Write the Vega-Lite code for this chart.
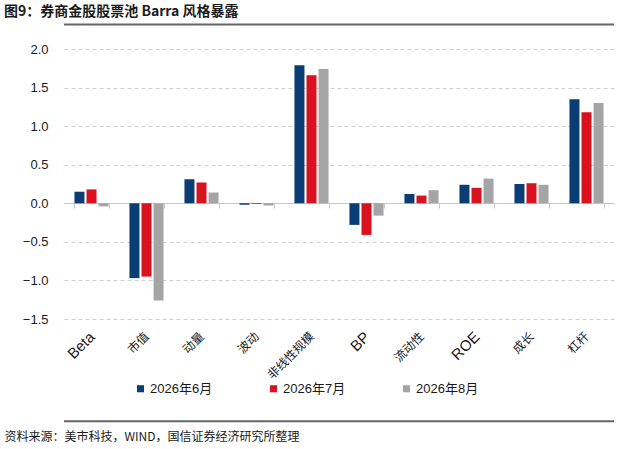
{
  "$schema": "https://vega.github.io/schema/vega-lite/v6.json",
  "width": 550,
  "height": 270,
  "autosize": {"type": "none"},
  "padding": {"left": 64, "top": 49, "right": 12, "bottom": 130},
  "background": "white",
  "config": {
    "view": {"stroke": null},
    "font": "Liberation Sans, Noto Sans CJK SC",
    "title": {"font": "Noto Sans CJK SC", "fontSize": 14, "fontWeight": "bold", "color": "#1a1a1a"}
  },
  "title": {
    "text": "图9：券商金股股票池 Barra 风格暴露",
    "anchor": "start",
    "frame": "group",
    "dx": -60,
    "offset": 4
  },
  "resolve": {"scale": {"y": "independent"}, "axis": {"y": "independent"}},
  "layer": [
    {
      "data": {
        "values": [
          {"factor": "Beta", "month": "2026年6月", "value": 0.15},
          {"factor": "Beta", "month": "2026年7月", "value": 0.18},
          {"factor": "Beta", "month": "2026年8月", "value": -0.04},
          {"factor": "市值", "month": "2026年6月", "value": -0.97},
          {"factor": "市值", "month": "2026年7月", "value": -0.95},
          {"factor": "市值", "month": "2026年8月", "value": -1.26},
          {"factor": "动量", "month": "2026年6月", "value": 0.31},
          {"factor": "动量", "month": "2026年7月", "value": 0.27},
          {"factor": "动量", "month": "2026年8月", "value": 0.14},
          {"factor": "波动", "month": "2026年6月", "value": -0.02},
          {"factor": "波动", "month": "2026年7月", "value": -0.01},
          {"factor": "波动", "month": "2026年8月", "value": -0.03},
          {"factor": "非线性规模", "month": "2026年6月", "value": 1.79},
          {"factor": "非线性规模", "month": "2026年7月", "value": 1.66},
          {"factor": "非线性规模", "month": "2026年8月", "value": 1.74},
          {"factor": "BP", "month": "2026年6月", "value": -0.28},
          {"factor": "BP", "month": "2026年7月", "value": -0.41},
          {"factor": "BP", "month": "2026年8月", "value": -0.16},
          {"factor": "流动性", "month": "2026年6月", "value": 0.12},
          {"factor": "流动性", "month": "2026年7月", "value": 0.10},
          {"factor": "流动性", "month": "2026年8月", "value": 0.17},
          {"factor": "ROE", "month": "2026年6月", "value": 0.24},
          {"factor": "ROE", "month": "2026年7月", "value": 0.20},
          {"factor": "ROE", "month": "2026年8月", "value": 0.32},
          {"factor": "成长", "month": "2026年6月", "value": 0.25},
          {"factor": "成长", "month": "2026年7月", "value": 0.26},
          {"factor": "成长", "month": "2026年8月", "value": 0.24},
          {"factor": "杠杆", "month": "2026年6月", "value": 1.35},
          {"factor": "杠杆", "month": "2026年7月", "value": 1.18},
          {"factor": "杠杆", "month": "2026年8月", "value": 1.30}
        ]
      },
      "mark": {"type": "bar"},
      "encoding": {
        "x": {
          "field": "factor",
          "type": "nominal",
          "sort": ["Beta", "市值", "动量", "波动", "非线性规模", "BP", "流动性", "ROE", "成长", "杠杆"],
          "scale": {"paddingInner": 0.38, "paddingOuter": 0.19},
          "axis": {
            "title": "资料来源：美市科技，WIND，国信证券经济研究所整理",
            "titleFont": "Noto Sans CJK SC",
            "titleFontSize": 12,
            "titleFontWeight": "normal",
            "titleColor": "#1a1a1a",
            "titleAnchor": "start",
            "titleAlign": "left",
            "titleBaseline": "alphabetic",
            "titleX": -60,
            "titleY": 237,
            "offset": -116,
            "tickBand": "extent",
            "tickSize": 5,
            "tickColor": "#c8c8c8",
            "domainColor": "#c8c8c8",
            "labelAngle": -45,
            "labelAlign": "right",
            "labelBaseline": "middle",
            "labelPadding": 126,
            "labelFontSize": {
              "condition": {"test": "test(/^[A-Za-z]+$/, datum.label)", "value": 15},
              "value": 12
            },
            "labelColor": "#1a1a1a",
            "labelFont": "Liberation Sans, Noto Sans CJK SC"
          }
        },
        "xOffset": {
          "field": "month",
          "type": "nominal",
          "scale": {"paddingInner": 0.17, "paddingOuter": 0}
        },
        "y": {
          "field": "value",
          "type": "quantitative",
          "title": null,
          "scale": {"domain": [-1.5, 2], "nice": false, "zero": false},
          "axis": {
            "values": [-1.5, -1, -0.5, 0, 0.5, 1, 1.5, 2],
            "format": ".1f",
            "domain": false,
            "ticks": false,
            "labelPadding": 16,
            "labelFontSize": 13,
            "labelColor": "#1a1a1a",
            "gridColor": "#d0d0d0",
            "gridDash": [4, 3]
          }
        },
        "color": {
          "field": "month",
          "type": "nominal",
          "scale": {
            "domain": ["2026年6月", "2026年7月", "2026年8月"],
            "range": ["#0a3d73", "#d9121f", "#a5a5a5"]
          },
          "legend": {
            "title": null,
            "orient": "none",
            "direction": "horizontal",
            "legendX": 70,
            "legendY": 333,
            "symbolType": "square",
            "symbolSize": 50,
            "symbolStrokeWidth": 0,
            "labelFontSize": 13,
            "labelColor": "#1a1a1a",
            "labelOffset": 3,
            "columnPadding": 54
          }
        }
      }
    },
    {
      "data": {"values": [{"line": "header", "pos": 2.318}, {"line": "footer", "pos": -2.825}]},
      "mark": {"type": "rule", "strokeWidth": 2, "clip": false, "stroke": "#666666"},
      "encoding": {
        "y": {"field": "pos", "type": "quantitative", "scale": {"domain": [-1.5, 2], "nice": false, "zero": false}, "axis": null}
      }
    }
  ]
}
